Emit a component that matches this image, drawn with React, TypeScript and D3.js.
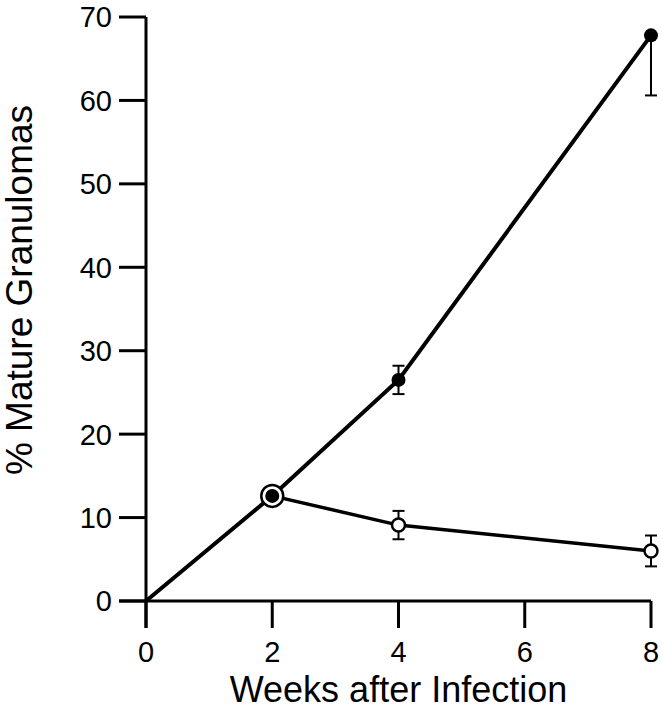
import React from "react";
import * as d3 from "d3";

// data
const weeks = [0, 2, 4, 8];
const filledValues = [0, 12.6, 26.5, 67.8];
const filledErrLow = [0, 0, 1.7, 7.2];
const filledErrHigh = [0, 0, 1.7, 0];

const openWeeks = [2, 4, 8];
const openValues = [12.6, 9.1, 6.0];
const openErr = [0, 1.7, 1.85];

const xTicks = [0, 2, 4, 6, 8];
const yTicks = [0, 10, 20, 30, 40, 50, 60, 70];

const W = 662;
const H = 720;
const font = "'Liberation Sans', Arial, Helvetica, sans-serif";

const App = () => {
  const x = d3.scaleLinear().domain([0, 8]).range([146, 651]);
  const y = d3.scaleLinear().domain([0, 70]).range([601, 17]);

  const line = d3
    .line<[number, number]>()
    .x((d) => x(d[0]))
    .y((d) => y(d[1]));

  const filledPts = weeks.map((w, i) => [w, filledValues[i]] as [number, number]);
  const openPts = openWeeks.map((w, i) => [w, openValues[i]] as [number, number]);

  const cap = 6;
  const tickLen = 27;

  return (
    <div style={{ position: "absolute", left: 0, top: 0 }}>
      <svg width={W} height={H} style={{ display: "block", background: "#fff" }}>
        {/* axes */}
        <g stroke="#000" strokeWidth={3} fill="none">
          <line x1={x(0)} x2={x(0)} y1={y(70)} y2={y(0) + tickLen} />
          <line x1={x(0) - tickLen} x2={x(8)} y1={y(0)} y2={y(0)} />
          {yTicks.map((t) => (
            <line key={"yt" + t} x1={x(0) - tickLen} x2={x(0)} y1={y(t)} y2={y(t)} />
          ))}
          {xTicks.map((t) => (
            <line key={"xt" + t} x1={x(t)} x2={x(t)} y1={y(0)} y2={y(0) + tickLen} />
          ))}
        </g>
        <g fontFamily={font} fontSize={29} fill="#000">
          {yTicks.map((t) => (
            <text key={"yl" + t} x={x(0) - tickLen - 7} y={y(t)} dy="0.36em" textAnchor="end">
              {t}
            </text>
          ))}
          {xTicks.map((t) => (
            <text key={"xl" + t} x={x(t)} y={662} textAnchor="middle">
              {t}
            </text>
          ))}
        </g>
        <text
          x={x(4)}
          y={702}
          textAnchor="middle"
          fontFamily={font}
          fontSize={36}
          fill="#000"
        >
          Weeks after Infection
        </text>
        <text
          transform={`translate(32, ${290}) rotate(-90)`}
          textAnchor="middle"
          fontFamily={font}
          fontSize={37}
          fill="#000"
        >
          % Mature Granulomas
        </text>

        {/* error bars */}
        <g stroke="#000" strokeWidth={2}>
          {weeks.map((w, i) => {
            const lo = filledValues[i] - filledErrLow[i];
            const hi = filledValues[i] + filledErrHigh[i];
            if (lo === hi) return null;
            return (
              <g key={"fe" + i}>
                <line x1={x(w)} x2={x(w)} y1={y(lo)} y2={y(hi)} />
                {filledErrLow[i] > 0 && (
                  <line x1={x(w) - cap} x2={x(w) + cap} y1={y(lo)} y2={y(lo)} />
                )}
                {filledErrHigh[i] > 0 && (
                  <line x1={x(w) - cap} x2={x(w) + cap} y1={y(hi)} y2={y(hi)} />
                )}
              </g>
            );
          })}
          {openWeeks.map((w, i) => {
            if (!openErr[i]) return null;
            const lo = openValues[i] - openErr[i];
            const hi = openValues[i] + openErr[i];
            return (
              <g key={"oe" + i}>
                <line x1={x(w)} x2={x(w)} y1={y(lo)} y2={y(hi)} />
                <line x1={x(w) - cap} x2={x(w) + cap} y1={y(lo)} y2={y(lo)} />
                <line x1={x(w) - cap} x2={x(w) + cap} y1={y(hi)} y2={y(hi)} />
              </g>
            );
          })}
        </g>

        {/* lines */}
        <path d={line(filledPts) ?? ""} fill="none" stroke="#000" strokeWidth={4} />
        <path d={line(openPts) ?? ""} fill="none" stroke="#000" strokeWidth={3.5} />

        {/* markers */}
        {openPts.slice(1).map((p, i) => (
          <circle
            key={"om" + i}
            cx={x(p[0])}
            cy={y(p[1])}
            r={6.5}
            fill="#fff"
            stroke="#000"
            strokeWidth={2.5}
          />
        ))}
        <circle cx={x(2)} cy={y(filledValues[1])} r={11} fill="#fff" stroke="#000" strokeWidth={2.5} />
        {filledPts.slice(1).map((p, i) => (
          <circle key={"fm" + i} cx={x(p[0])} cy={y(p[1])} r={7} fill="#000" />
        ))}
      </svg>
    </div>
  );
};

export default App;
